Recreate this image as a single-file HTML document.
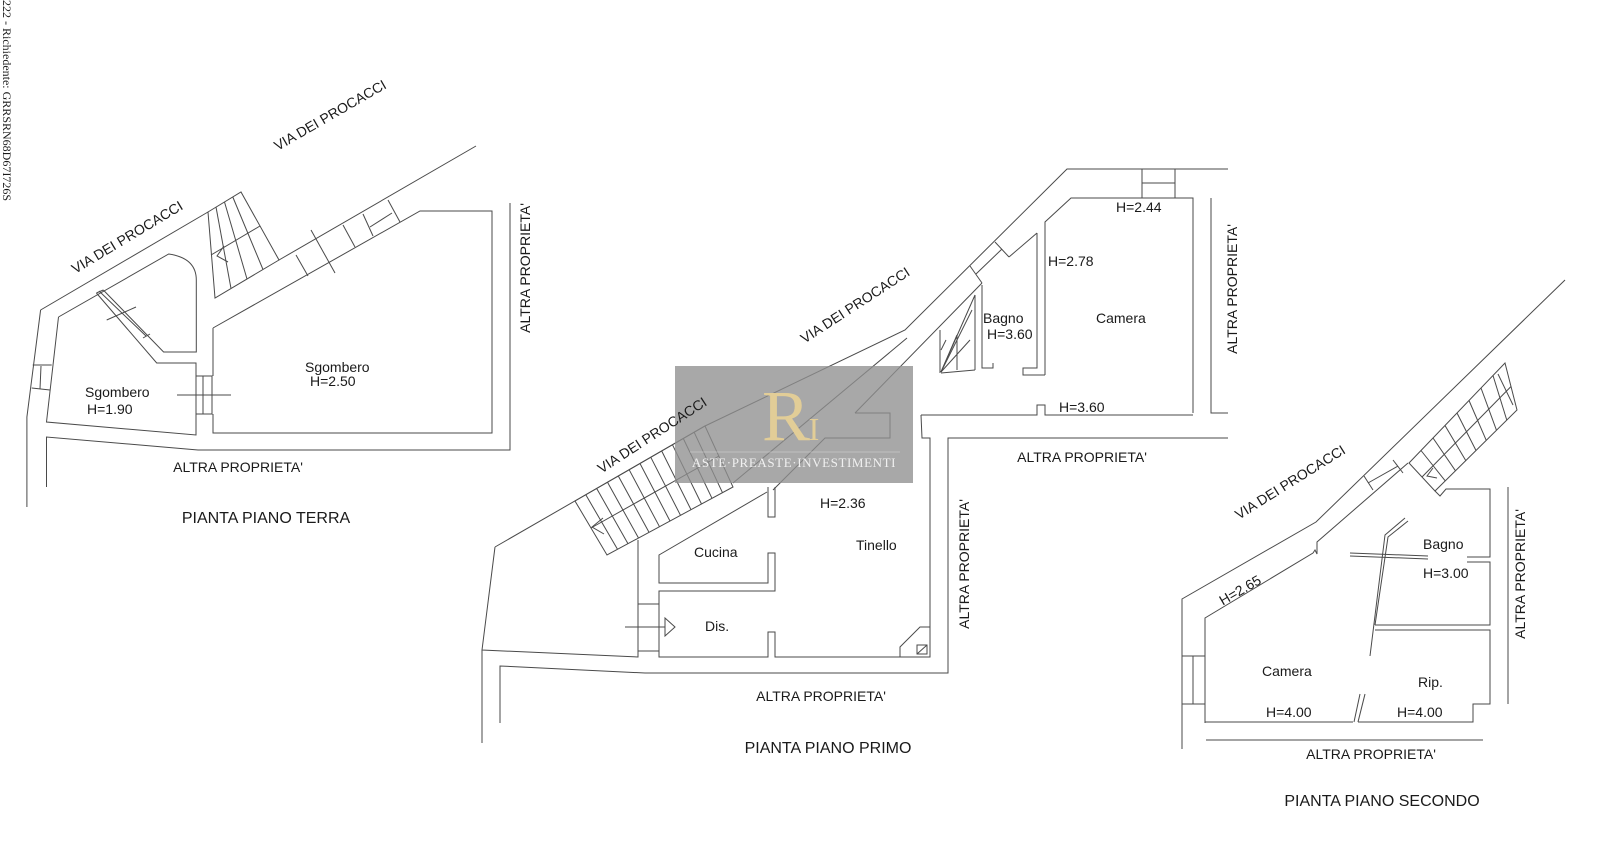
<!DOCTYPE html>
<html><head><meta charset="utf-8"><style>
html,body{margin:0;padding:0;background:#fff;}
svg{display:block;}
text{font-family:"Liberation Sans",sans-serif;fill:#1a1a1a;}
</style></head><body>
<svg width="1600" height="856" viewBox="0 0 1600 856" xmlns="http://www.w3.org/2000/svg">
<g fill="none" stroke="#4a4a4a" stroke-width="1">
<!-- LEFT PLAN -->
<polyline points="40.6,310 26.9,417 26.9,507"/>
<line x1="40.6" y1="310" x2="208" y2="212"/>
<polygon points="208,212 241,192 279,260 215,298"/>
<line x1="216" y1="207" x2="231" y2="288.5"/>
<line x1="224.5" y1="202" x2="247" y2="279"/>
<line x1="232.8" y1="197" x2="263" y2="269.5"/>
<line x1="211" y1="255" x2="260" y2="226"/>
<polyline points="224,246 217,256 228,262"/>
<line x1="279" y1="260" x2="476" y2="146"/>
<line x1="296" y1="255" x2="308" y2="276"/>
<line x1="343" y1="225" x2="355" y2="247"/>
<line x1="363" y1="214" x2="373" y2="236"/>
<line x1="388" y1="200" x2="400" y2="222"/>
<line x1="370" y1="227" x2="392" y2="213"/>
<line x1="311" y1="230" x2="335" y2="273"/>
<polyline points="213,328 420,211 492,211 492,433 213,433 213,414"/>
<line x1="213" y1="328" x2="213" y2="376"/>
<rect x="196" y="376" width="16" height="38"/>
<line x1="203" y1="376" x2="203" y2="414"/>
<line x1="177" y1="395" x2="231" y2="395"/>
<polyline points="510,203 510,450 198,450 46.5,437 46.5,487"/>
<polyline points="58.5,317 46.5,422 196,435 196,414"/>
<polyline points="196,376 196,363 156.7,363 96.4,293"/>
<path d="M58.5,317 L168.7,254 Q196.3,258 196.3,280 L196.3,352 L163.6,352 L103.3,290"/>
<line x1="96.4" y1="293" x2="103.3" y2="290"/>
<line x1="143" y1="338" x2="150" y2="334"/>
<line x1="106.7" y1="320" x2="136" y2="307"/>
<line x1="99" y1="291" x2="146" y2="336"/>
<line x1="32.7" y1="365" x2="51.7" y2="365"/>
<line x1="31.7" y1="388" x2="50" y2="390"/>
<line x1="41" y1="366" x2="40" y2="389"/>

<!-- MIDDLE PLAN -->
<polyline points="495,547 705,426 905,330 1067,169 1228,169"/>
<line x1="733" y1="483" x2="907" y2="338"/>
<rect x="1142" y="169" width="33" height="29"/>
<line x1="1142" y1="183" x2="1175" y2="183"/>
<polyline points="1045,375 1045,222 1071,198 1193,198 1193,413"/>
<polyline points="1037,233 1037,368 1023,368 1023,375 1045,375"/>
<polyline points="982,285 982,368 993,368 993,363"/>
<!-- window on street -->
<line x1="970" y1="266" x2="982" y2="283"/>
<line x1="995" y1="242" x2="1009" y2="257"/>
<line x1="976" y1="274" x2="1002" y2="249"/>
<line x1="1009" y1="257" x2="1037" y2="233"/>
<!-- inner walls -->
<line x1="982" y1="283" x2="855" y2="413"/>
<polyline points="855,413 890,413 890,438 825,438 773,490"/>
<!-- small stair -->
<line x1="975" y1="295" x2="975" y2="370"/>
<line x1="940" y1="330" x2="940" y2="373"/>
<line x1="941" y1="373" x2="975" y2="370"/>
<line x1="957" y1="335" x2="957" y2="370"/>
<line x1="941" y1="372" x2="975" y2="295"/>
<line x1="941" y1="372" x2="972" y2="310"/>
<line x1="941" y1="372" x2="957" y2="335"/>
<line x1="941" y1="350" x2="946" y2="340"/>
<line x1="941" y1="372" x2="970" y2="340"/>
<!-- corridor -->
<polyline points="921,415 1037,415 1037,405 1045,405 1045,415 1193,415"/>
<polyline points="921,415 922,438 930,438 930,657 775,657 775,632 768,632 768,657 659,657 659,591 775,591 775,553 768,553 768,583 659,583 659,555 767,492"/>
<polyline points="768,487 768,517 775,517 775,487"/>
<polyline points="900,657 900,647 920,627 930,627"/>
<rect x="917" y="645" width="10" height="9"/>
<line x1="917" y1="654" x2="927" y2="645"/>
<polyline points="495,547 482,650 638,657 638,540"/>
<line x1="638" y1="604" x2="659" y2="604"/>
<line x1="638" y1="651" x2="659" y2="651"/>
<line x1="625" y1="627" x2="665" y2="627"/>
<polygon points="665,618 675,627 665,636"/>
<polyline points="500,723 500,666 645,673 948,673 948,438 1228,438"/>
<line x1="482" y1="650" x2="482" y2="743"/>
<polyline points="1211,198 1211,413 1228,413"/>
<!-- middle stair -->
<polygon points="575,501 705,426 733,487 607,555"/>
<line x1="585.8" y1="494.8" x2="617.5" y2="549.3"/>
<line x1="596.7" y1="488.5" x2="628" y2="543.7"/>
<line x1="607.5" y1="482.3" x2="638.5" y2="538"/>
<line x1="618.3" y1="476" x2="649" y2="532.3"/>
<line x1="629.2" y1="469.8" x2="659.5" y2="526.7"/>
<line x1="640" y1="463.5" x2="670" y2="521"/>
<line x1="650.8" y1="457.3" x2="680.5" y2="515.3"/>
<line x1="661.7" y1="451" x2="691" y2="509.7"/>
<line x1="672.5" y1="444.8" x2="701.5" y2="504"/>
<line x1="683.3" y1="438.5" x2="712" y2="498.3"/>
<line x1="694.2" y1="432.3" x2="722.5" y2="492.7"/>
<line x1="591" y1="528" x2="719" y2="456"/>
<polyline points="603,518 592,527 604,534"/>

<!-- RIGHT PLAN -->
<polyline points="1182,749 1182,599 1316,522 1565,280"/>
<line x1="1182" y1="656" x2="1205" y2="656"/>
<line x1="1182" y1="704" x2="1205" y2="704"/>
<line x1="1193" y1="656" x2="1193" y2="704"/>
<polyline points="1205,723 1205,618 1313,553 1315,550 1317,554 1317,542 1408,463"/>
<line x1="1364" y1="476" x2="1373" y2="490"/>
<line x1="1393" y1="460" x2="1403" y2="473"/>
<line x1="1368" y1="483" x2="1398" y2="466"/>
<polygon points="1409,463 1505,363 1517,410 1435,491"/>
<line x1="1421" y1="450.5" x2="1445.3" y2="480.9"/>
<line x1="1433" y1="438" x2="1455.5" y2="470.8"/>
<line x1="1445" y1="425.5" x2="1465.8" y2="460.6"/>
<line x1="1457" y1="413" x2="1476" y2="450.5"/>
<line x1="1469" y1="400.5" x2="1486.3" y2="440.4"/>
<line x1="1481" y1="388" x2="1496.5" y2="430.3"/>
<line x1="1493" y1="375.5" x2="1506.8" y2="420.1"/>
<line x1="1422" y1="477" x2="1511" y2="386.5"/>
<line x1="1498" y1="374" x2="1513" y2="405"/>
<polyline points="1433,468 1427,476 1437,478"/>
<polyline points="1435,491 1440,496 1446,489 1490,489 1490,557 1467,557"/>
<polyline points="1467,562 1490,562 1490,625 1375,625"/>
<polyline points="1375,630 1490,630 1490,704 1473,704 1473,722 1358,722"/>
<polyline points="1353,722 1205,722"/>
<line x1="1354" y1="722" x2="1360" y2="694"/>
<line x1="1358" y1="722" x2="1365" y2="694"/>
<polyline points="1370,656 1385,535 1405,518"/>
<polyline points="1375,625 1388,537 1408,521"/>
<line x1="1350" y1="553" x2="1428" y2="556"/>
<line x1="1350" y1="556" x2="1428" y2="559"/>
<line x1="1508" y1="487" x2="1508" y2="704"/>
<line x1="1206" y1="740" x2="1483" y2="740"/>
</g>

<!-- watermark -->
<rect x="675" y="366" width="238" height="117" fill="#8f8f8f" fill-opacity="0.78"/>
<text x="786" y="440" font-size="72" text-anchor="middle" style="font-family:'Liberation Serif',serif;fill:#e2cd97">R</text>
<text x="814" y="440" font-size="32" text-anchor="middle" style="font-family:'Liberation Serif',serif;fill:#e2cd97">I</text>
<line x1="690" y1="452" x2="900" y2="452" stroke="#d8d8d8" stroke-width="0.6"/>
<text x="794" y="467" font-size="13" text-anchor="middle" style="font-family:'Liberation Serif',serif;fill:#f0f0f0;letter-spacing:0.6px">ASTE·PREASTE·INVESTIMENTI</text>

<!-- texts -->
<g font-size="14">
<text x="127" y="242" text-anchor="middle" transform="rotate(-31 127 237)">VIA DEI PROCACCI</text>
<text x="330" y="120" text-anchor="middle" transform="rotate(-30 330 115)">VIA DEI PROCACCI</text>
<text x="305" y="372">Sgombero</text>
<text x="310" y="386">H=2.50</text>
<text x="85" y="397">Sgombero</text>
<text x="87" y="414">H=1.90</text>
<text x="238" y="472" text-anchor="middle">ALTRA PROPRIETA'</text>
<text x="535" y="273" text-anchor="middle" transform="rotate(-90 530 273)">ALTRA PROPRIETA'</text>

<text x="652" y="440" text-anchor="middle" transform="rotate(-33 652 435)">VIA DEI PROCACCI</text>
<text x="855" y="310" text-anchor="middle" transform="rotate(-33 855 305)">VIA DEI PROCACCI</text>
<text x="820" y="508">H=2.36</text>
<text x="856" y="550">Tinello</text>
<text x="694" y="557">Cucina</text>
<text x="705" y="631">Dis.</text>
<text x="821" y="701" text-anchor="middle">ALTRA PROPRIETA'</text>
<text x="1116" y="212">H=2.44</text>
<text x="1048" y="266">H=2.78</text>
<text x="983" y="323">Bagno</text>
<text x="987" y="339">H=3.60</text>
<text x="1096" y="323">Camera</text>
<text x="1059" y="412">H=3.60</text>
<text x="1082" y="462" text-anchor="middle">ALTRA PROPRIETA'</text>
<text x="1242" y="294" text-anchor="middle" transform="rotate(-90 1237 294)">ALTRA PROPRIETA'</text>
<text x="974" y="569" text-anchor="middle" transform="rotate(-90 969 569)">ALTRA PROPRIETA'</text>

<text x="1290" y="487" text-anchor="middle" transform="rotate(-32 1290 482)">VIA DEI PROCACCI</text>
<text x="1240" y="595" text-anchor="middle" transform="rotate(-30 1240 590)">H=2.65</text>
<text x="1423" y="549">Bagno</text>
<text x="1423" y="578">H=3.00</text>
<text x="1262" y="676">Camera</text>
<text x="1418" y="687">Rip.</text>
<text x="1266" y="717">H=4.00</text>
<text x="1397" y="717">H=4.00</text>
<text x="1371" y="759" text-anchor="middle">ALTRA PROPRIETA'</text>
<text x="1530" y="579" text-anchor="middle" transform="rotate(-90 1525 579)">ALTRA PROPRIETA'</text>
</g>
<g font-size="16">
<text x="266" y="523" text-anchor="middle">PIANTA PIANO TERRA</text>
<text x="828" y="753" text-anchor="middle">PIANTA PIANO PRIMO</text>
<text x="1382" y="806" text-anchor="middle">PIANTA PIANO SECONDO</text>
</g>
<text x="0" y="0" font-size="12" transform="translate(3,0) rotate(90)" style="font-family:'Liberation Serif',serif">222 - Richiedente: GRRSRN68D67I726S</text>
</svg>
</body></html>
